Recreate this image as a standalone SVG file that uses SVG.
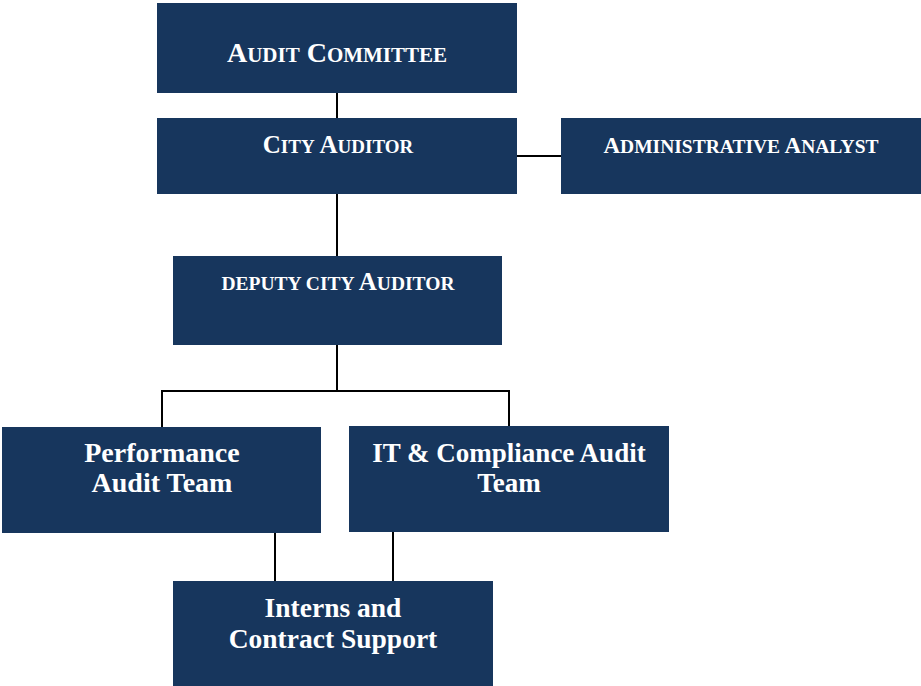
<svg xmlns="http://www.w3.org/2000/svg" width="921" height="686" viewBox="0 0 921 686">
<style>
.box{fill:#17365D}
.t{font-family:"Liberation Serif","Times New Roman",serif;font-weight:bold;fill:#FFFFFF;text-anchor:middle}
.c{stroke:#000000;stroke-width:2;fill:none}
</style>
<rect width="921" height="686" fill="#FFFFFF"/>
<g id="connectors">
<line class="c" x1="337" y1="93" x2="337" y2="118"/>
<line class="c" x1="517" y1="156" x2="561" y2="156"/>
<line class="c" x1="337" y1="194" x2="337" y2="256"/>
<polyline class="c" points="337,345 337,391"/>
<polyline class="c" points="162,427 162,391 509,391 509,426"/>
<line class="c" x1="275" y1="533" x2="275" y2="581"/>
<line class="c" x1="393" y1="532" x2="393" y2="581"/>
</g>
<g id="audit-committee">
<rect class="box" x="157" y="3" width="360" height="90"/>
<text class="t" x="337" y="62" font-size="28">A<tspan font-size="21">UDIT</tspan> C<tspan font-size="21">OMMITTEE</tspan></text>
</g>
<g id="city-auditor">
<rect class="box" x="157" y="118" width="360" height="76"/>
<text class="t" x="338" y="153" font-size="25">C<tspan font-size="19">ITY</tspan> A<tspan font-size="19">UDITOR</tspan></text>
</g>
<g id="administrative-analyst">
<rect class="box" x="561" y="118" width="360" height="76"/>
<text class="t" x="741" y="153" font-size="23">A<tspan font-size="19.5">DMINISTRATIVE</tspan> A<tspan font-size="19.5">NALYST</tspan></text>
</g>
<g id="deputy-city-auditor">
<rect class="box" x="173" y="256" width="329" height="89"/>
<text class="t" x="338" y="290" font-size="19.5">DEPUTY CITY <tspan font-size="25">A</tspan>UDITOR</text>
</g>
<g id="performance-audit-team">
<rect class="box" x="2" y="427" width="319" height="106"/>
<text class="t" x="162" y="462" font-size="28">Performance</text>
<text class="t" x="162" y="492" font-size="28">Audit Team</text>
</g>
<g id="it-compliance-audit-team">
<rect class="box" x="349" y="426" width="320" height="106"/>
<text class="t" x="509" y="462" font-size="27">IT &amp; Compliance Audit</text>
<text class="t" x="509" y="492" font-size="27">Team</text>
</g>
<g id="interns-contract-support">
<rect class="box" x="173" y="581" width="320" height="105"/>
<text class="t" x="333" y="617" font-size="27.5">Interns and</text>
<text class="t" x="333" y="648" font-size="27.5">Contract Support</text>
</g>
</svg>
